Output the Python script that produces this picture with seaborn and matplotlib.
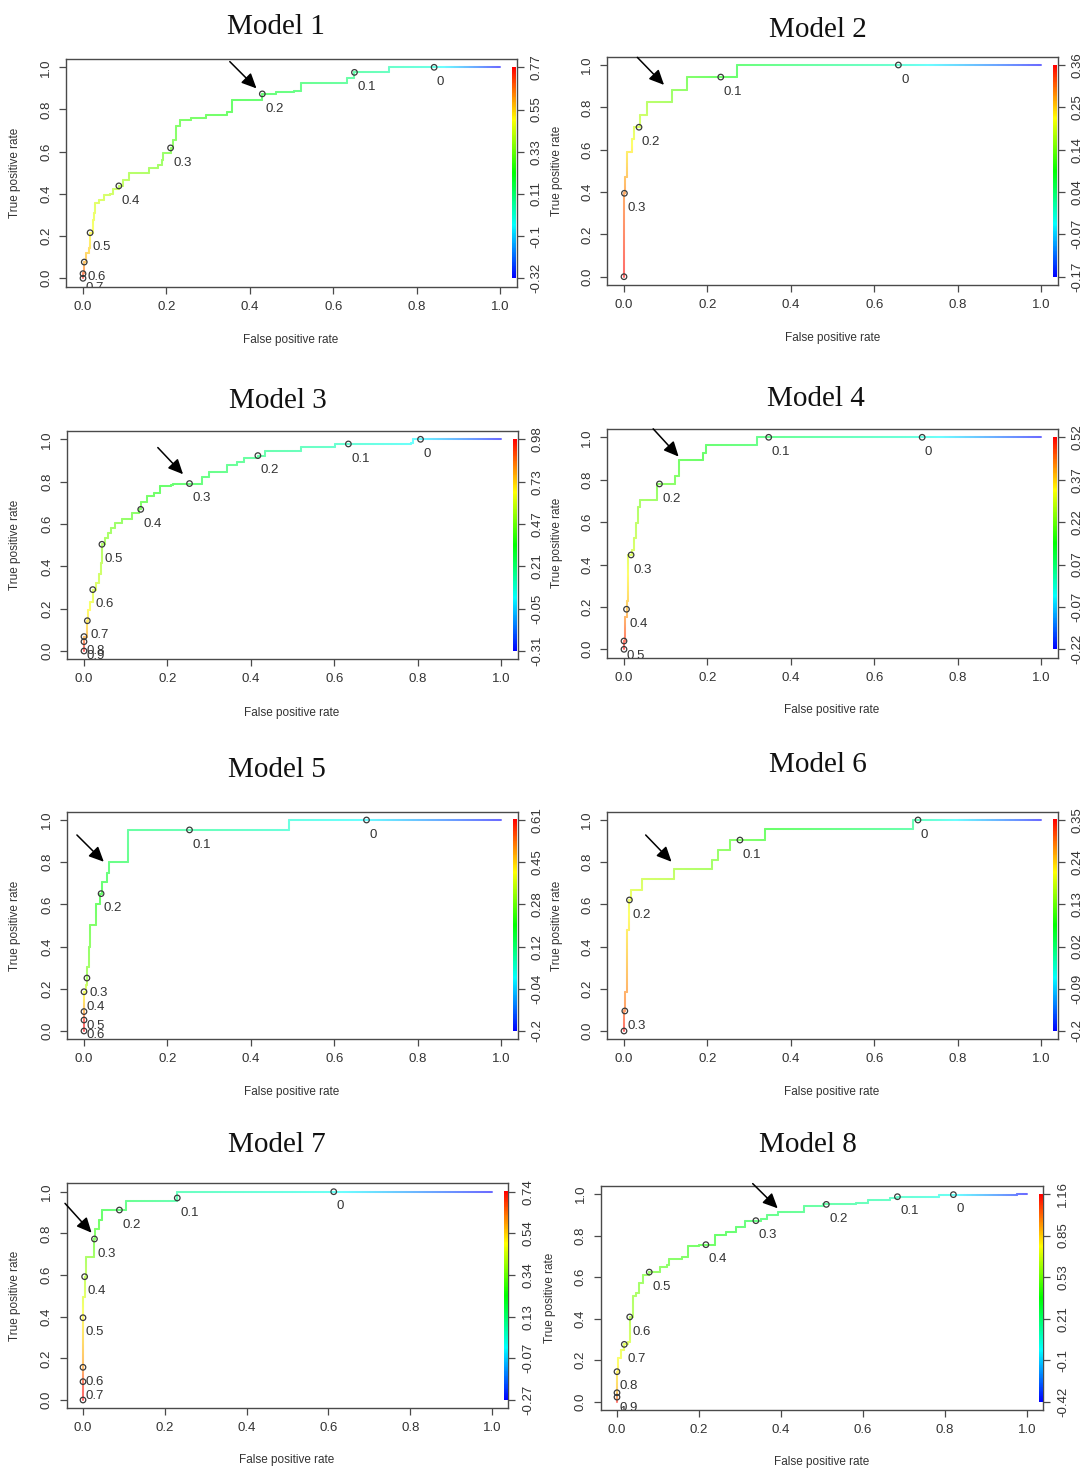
import colorsys
import numpy as np
import matplotlib
matplotlib.use("Agg")
import matplotlib.pyplot as plt
import matplotlib.transforms as mtransforms
from matplotlib.collections import LineCollection
from matplotlib.colors import ListedColormap
import seaborn as sns

# ------------------------------------------------------------------ data
MODEL_NAMES = ["Model 1", "Model 2", "Model 3", "Model 4",
               "Model 5", "Model 6", "Model 7", "Model 8"]
AXIS_TICKS = [0.0, 0.2, 0.4, 0.6, 0.8, 1.0]

# Model 1
M1_FPR = [0, 0, 0.003, 0.008, 0.015, 0.017, 0.023, 0.027, 0.029, 0.039, 0.050, 0.065, 0.071, 0.086,
          0.096, 0.110, 0.150, 0.159, 0.179, 0.190, 0.192, 0.210, 0.217, 0.224, 0.232, 0.259, 0.296,
          0.346, 0.357, 0.426, 0.430, 0.463, 0.505, 0.522, 0.622, 0.634, 0.651, 0.722, 0.735, 1.0]
M1_TPR = [0, 0.024, 0.077, 0.118, 0.142, 0.216, 0.276, 0.308, 0.355, 0.371, 0.395, 0.400, 0.422, 0.438,
          0.466, 0.498, 0.498, 0.521, 0.537, 0.561, 0.592, 0.618, 0.656, 0.722, 0.750, 0.758, 0.774,
          0.790, 0.845, 0.845, 0.874, 0.885, 0.889, 0.924, 0.924, 0.948, 0.976, 0.976, 1.0, 1.0]
M1_CUT_FPR = [0.842, 0.651, 0.430, 0.210, 0.086, 0.017, 0.003, 0.0, 0.0]
M1_CUT_TPR = [1.0, 0.976, 0.874, 0.618, 0.438, 0.216, 0.077, 0.022, 0.0]
M1_CUT_VAL = [0, 0.1, 0.2, 0.3, 0.4, 0.5, 0.6, 0.7, 0.8]
M1_CBAR = [-0.32, -0.1, 0.11, 0.33, 0.55, 0.77]

# Model 2
M2_FPR = [0, 0, 0.002, 0.007, 0.007, 0.017, 0.018, 0.023, 0.025, 0.036, 0.038, 0.053, 0.054, 0.113,
          0.114, 0.150, 0.152, 0.269, 0.271, 1.0]
M2_TPR = [0, 0.394, 0.472, 0.532, 0.587, 0.587, 0.649, 0.649, 0.706, 0.706, 0.764, 0.764, 0.824, 0.824,
          0.883, 0.883, 0.943, 0.943, 1.0, 1.0]
M2_CUT_FPR = [0.658, 0.232, 0.036, 0.001, 0.0]
M2_CUT_TPR = [1.0, 0.943, 0.706, 0.394, 0.0]
M2_CUT_VAL = [0, 0.1, 0.2, 0.3, 0.4]
M2_CBAR = [-0.17, -0.07, 0.04, 0.14, 0.25, 0.36]

# Model 3
M3_FPR = [0, 0, 0.008, 0.010, 0.015, 0.021, 0.029, 0.035, 0.040, 0.043, 0.050, 0.057, 0.065, 0.075,
          0.090, 0.110, 0.115, 0.133, 0.1375, 0.150, 0.167, 0.183, 0.208, 0.214, 0.273, 0.282, 0.300,
          0.329, 0.342, 0.367, 0.383, 0.417, 0.433, 0.517, 0.521, 0.600, 0.602, 0.783, 0.788, 1.0]
M3_TPR = [0, 0.068, 0.143, 0.194, 0.233, 0.290, 0.320, 0.364, 0.414, 0.504, 0.532, 0.556, 0.580, 0.603,
          0.624, 0.624, 0.650, 0.669, 0.706, 0.732, 0.745, 0.780, 0.783, 0.791, 0.791, 0.824, 0.847,
          0.847, 0.879, 0.894, 0.910, 0.923, 0.946, 0.946, 0.965, 0.965, 0.978, 0.984, 1.0, 1.0]
M3_CUT_FPR = [0.807, 0.634, 0.417, 0.253, 0.136, 0.043, 0.021, 0.008, 0.0, 0.0, 0.0]
M3_CUT_TPR = [1.0, 0.978, 0.923, 0.791, 0.669, 0.504, 0.290, 0.143, 0.068, 0.044, 0.0]
M3_CUT_VAL = [0, 0.1, 0.2, 0.3, 0.4, 0.5, 0.6, 0.7, 0.8, 0.9, 1.0]
M3_CBAR = [-0.31, -0.05, 0.21, 0.47, 0.73, 0.98]

# Model 4
M4_FPR = [0, 0, 0.002, 0.003, 0.006, 0.008, 0.010, 0.017, 0.020, 0.023, 0.028, 0.033, 0.039, 0.077,
          0.079, 0.120, 0.122, 0.131, 0.131, 0.185, 0.189, 0.197, 0.197, 0.318, 0.319, 1.0]
M4_TPR = [0, 0.039, 0.107, 0.154, 0.189, 0.230, 0.445, 0.445, 0.469, 0.524, 0.594, 0.670, 0.704, 0.704,
          0.780, 0.780, 0.818, 0.818, 0.893, 0.893, 0.928, 0.928, 0.964, 0.964, 1.0, 1.0]
M4_CUT_FPR = [0.715, 0.347, 0.085, 0.017, 0.006, 0.0, 0.0]
M4_CUT_TPR = [1.0, 1.0, 0.780, 0.445, 0.189, 0.039, 0.0]
M4_CUT_VAL = [0, 0.1, 0.2, 0.3, 0.4, 0.5, 0.6]
M4_CBAR = [-0.22, -0.07, 0.07, 0.22, 0.37, 0.52]

# Model 5
M5_FPR = [0, 0, 0.004, 0.007, 0.008, 0.0125, 0.015, 0.027, 0.029, 0.035, 0.0375, 0.044, 0.054, 0.056,
          0.061, 0.1025, 0.106, 0.106, 0.490, 0.492, 1.0]
M5_TPR = [0, 0.186, 0.218, 0.251, 0.305, 0.400, 0.502, 0.502, 0.602, 0.602, 0.651, 0.705, 0.705, 0.750,
          0.803, 0.803, 0.853, 0.953, 0.953, 1.0, 1.0]
M5_CUT_FPR = [0.6775, 0.253, 0.041, 0.007, 0.0, 0.0, 0.0, 0.0]
M5_CUT_TPR = [1.0, 0.953, 0.651, 0.251, 0.186, 0.092, 0.052, 0.0]
M5_CUT_VAL = [0, 0.1, 0.2, 0.3, 0.4, 0.5, 0.6, 0.7]
M5_CBAR = [-0.2, -0.04, 0.12, 0.28, 0.45, 0.61]

# Model 6
M6_FPR = [0, 0, 0.002, 0.006, 0.007, 0.008, 0.012, 0.013, 0.017, 0.042, 0.043, 0.120, 0.120, 0.208,
          0.210, 0.224, 0.225, 0.251, 0.253, 0.336, 0.337, 0.690, 0.692, 1.0]
M6_TPR = [0, 0.095, 0.186, 0.186, 0.336, 0.479, 0.479, 0.621, 0.668, 0.668, 0.719, 0.719, 0.768, 0.768,
          0.810, 0.810, 0.858, 0.858, 0.905, 0.905, 0.956, 0.956, 1.0, 1.0]
M6_CUT_FPR = [0.705, 0.278, 0.013, 0.002, 0.0]
M6_CUT_TPR = [1.0, 0.905, 0.621, 0.095, 0.0]
M6_CUT_VAL = [0, 0.1, 0.2, 0.3, 0.4]
M6_CBAR = [-0.2, -0.09, 0.02, 0.13, 0.24, 0.35]

# Model 7
M7_FPR = [0, 0, 0.001, 0.004, 0.007, 0.028, 0.028, 0.030, 0.036, 0.038, 0.045, 0.047, 0.104, 0.106,
          0.230, 0.231, 1.0]
M7_TPR = [0, 0.395, 0.496, 0.592, 0.685, 0.685, 0.773, 0.819, 0.819, 0.864, 0.864, 0.912, 0.912, 0.955,
          0.955, 1.0, 1.0]
M7_CUT_FPR = [0.613, 0.2305, 0.089, 0.028, 0.004, 0.0, 0.0, 0.0, 0.0]
M7_CUT_TPR = [1.0, 0.970, 0.912, 0.773, 0.592, 0.395, 0.157, 0.088, 0.0]
M7_CUT_VAL = [0, 0.1, 0.2, 0.3, 0.4, 0.5, 0.6, 0.7, 0.8]
M7_CBAR = [-0.27, -0.07, 0.13, 0.34, 0.54, 0.74]

# Model 8
M8_FPR = [0, 0, 0.0025, 0.009, 0.0178, 0.026, 0.031, 0.038, 0.0466, 0.053, 0.0635, 0.0787, 0.094,
          0.104, 0.121, 0.128, 0.159, 0.174, 0.199, 0.2168, 0.240, 0.265, 0.290, 0.3116, 0.3387,
          0.352, 0.3666, 0.392, 0.4217, 0.4555, 0.502, 0.5826, 0.612, 0.667, 0.684, 0.7815, 0.786,
          0.968, 0.976, 1.0]
M8_TPR = [0, 0.1445, 0.209, 0.249, 0.276, 0.289, 0.408, 0.509, 0.522, 0.570, 0.608, 0.624, 0.624,
          0.650, 0.658, 0.685, 0.695, 0.750, 0.753, 0.756, 0.8026, 0.8186, 0.8427, 0.8716, 0.8716,
          0.878, 0.899, 0.913, 0.913, 0.942, 0.950, 0.955, 0.971, 0.979, 0.987, 0.987, 0.997,
          0.997, 1.0, 1.0]
M8_CUT_FPR = [0.8205, 0.684, 0.5106, 0.3387, 0.2168, 0.0787, 0.031, 0.0178, 0.0, 0.0, 0.0]
M8_CUT_TPR = [0.997, 0.987, 0.950, 0.8716, 0.756, 0.624, 0.408, 0.276, 0.1445, 0.043, 0.022]
M8_CUT_VAL = [0, 0.1, 0.2, 0.3, 0.4, 0.5, 0.6, 0.7, 0.8, 0.9, 1.0]
M8_CBAR = [-0.42, -0.1, 0.21, 0.53, 0.85, 1.16]

# annotation arrows (start -> tip, data coordinates)
ARROWS = [((0.352, 1.027), (0.416, 0.900)),
          ((0.032, 1.036), (0.096, 0.906)),
          ((0.177, 0.961), (0.2375, 0.835)),
          ((0.070, 1.040), (0.131, 0.909)),
          ((-0.017, 0.929), (0.0475, 0.802)),
          ((0.052, 0.929), (0.114, 0.802)),
          ((-0.044, 0.944), (0.021, 0.803)),
          ((0.331, 1.050), (0.392, 0.931))]

MODELS = [
    (M1_FPR, M1_TPR, M1_CUT_FPR, M1_CUT_TPR, M1_CUT_VAL, M1_CBAR),
    (M2_FPR, M2_TPR, M2_CUT_FPR, M2_CUT_TPR, M2_CUT_VAL, M2_CBAR),
    (M3_FPR, M3_TPR, M3_CUT_FPR, M3_CUT_TPR, M3_CUT_VAL, M3_CBAR),
    (M4_FPR, M4_TPR, M4_CUT_FPR, M4_CUT_TPR, M4_CUT_VAL, M4_CBAR),
    (M5_FPR, M5_TPR, M5_CUT_FPR, M5_CUT_TPR, M5_CUT_VAL, M5_CBAR),
    (M6_FPR, M6_TPR, M6_CUT_FPR, M6_CUT_TPR, M6_CUT_VAL, M6_CBAR),
    (M7_FPR, M7_TPR, M7_CUT_FPR, M7_CUT_TPR, M7_CUT_VAL, M7_CBAR),
    (M8_FPR, M8_TPR, M8_CUT_FPR, M8_CUT_TPR, M8_CUT_VAL, M8_CBAR),
]

# ------------------------------------------------------------------ layout (pixels)
W, H = 1089, 1470
# x px of FPR 0 / 1, y px of TPR 1 / 0
PANEL_PX = [(83, 500, 67.3, 278.3), (624, 1041, 65.0, 276.7),
            (84, 501, 439.3, 651.0), (624, 1041, 437.3, 649.3),
            (84, 501, 820.0, 1031.0), (624, 1041, 820.0, 1031.0),
            (83, 492, 1191.7, 1400.0), (617, 1027, 1194.0, 1401.7)]
TITLE_PX = [(276, 27), (818, 30), (278, 401), (816, 399),
            (277, 770), (818, 765), (277, 1145), (808, 1145)]
XLAB_PX = [(291, 340), (833, 338), (292, 713), (832, 710),
           (292, 1092), (832, 1092), (287, 1460), (822, 1462)]
YLAB_X = [15, 557, 15, 557, 15, 557, 15, 550]

# ------------------------------------------------------------------ style
sns.set_theme(style="ticks")
plt.rcParams["font.family"] = ["Liberation Sans", "DejaVu Sans"]
TXT = "#333333"
FRAME = "#4a4a4a"


def rainbow_rgb(t):
    return np.array(colorsys.hsv_to_rgb((1.0 - t) * 4.0 / 6.0, 1.0, 1.0))


RAINBOW = ListedColormap([rainbow_rgb(t) for t in np.linspace(0, 1, 256)])


def step_path(fpr, tpr):
    xs, ys = [fpr[0]], [tpr[0]]
    for k in range(1, len(fpr)):
        xs += [fpr[k], fpr[k]]
        ys += [tpr[k - 1], tpr[k]]
    return np.array(xs, float), np.array(ys, float)


def project(px, py, xs, ys, s):
    best_d, best_s = 1e9, 0.0
    for k in range(len(xs) - 1):
        ax_, ay_, dx, dy = xs[k], ys[k], xs[k + 1] - xs[k], ys[k + 1] - ys[k]
        L2 = dx * dx + dy * dy
        t = 0.0 if L2 == 0 else float(np.clip(((px - ax_) * dx + (py - ay_) * dy) / L2, 0, 1))
        d = (ax_ + t * dx - px) ** 2 + (ay_ + t * dy - py) ** 2
        if d < best_d - 1e-12:
            best_d, best_s = d, s[k] + t * np.sqrt(L2)
    return best_s


fig = plt.figure(figsize=(W / 100, H / 100), dpi=100)

for i, (fpr, tpr, cf, ct, cv, cbar) in enumerate(MODELS):
    x0, x1, y1, y0 = PANEL_PX[i]
    ux, uy = x1 - x0, y0 - y1
    left, right = x0 - 0.04 * ux, x1 + 0.04 * ux
    top, bottom = y1 - 0.04 * uy, y0 + 0.04 * uy
    ax = fig.add_axes([left / W, 1 - bottom / H, (right - left) / W, (bottom - top) / H])
    vmin, vmax = cbar[0], cbar[-1]

    # coloured step curve
    xs, ys = step_path(fpr, tpr)
    seg_len = np.hypot(np.diff(xs), np.diff(ys))
    s = np.concatenate([[0.0], np.cumsum(seg_len)])
    anchors = [(0.0, vmax)]
    for px, py, v in zip(cf, ct, cv):
        if vmin < v < vmax:
            anchors.append((project(px, py, xs, ys, s), v))
    anchors.append((s[-1], vmin))
    anchors.sort()
    a_s = np.array([a[0] for a in anchors])
    a_v = np.minimum.accumulate(np.array([a[1] for a in anchors]))
    segs, cols = [], []
    for k in range(len(xs) - 1):
        if seg_len[k] == 0:
            continue
        n = max(1, int(np.ceil(seg_len[k] / 0.004)))
        tt = np.linspace(0, 1, n + 1)
        px_ = xs[k] + tt * (xs[k + 1] - xs[k])
        py_ = ys[k] + tt * (ys[k + 1] - ys[k])
        sm = s[k] + (tt[:-1] + tt[1:]) / 2 * seg_len[k]
        vals = np.interp(sm, a_s, a_v)
        for j in range(n):
            segs.append([(px_[j], py_[j]), (px_[j + 1], py_[j + 1])])
            rgb = rainbow_rgb((vals[j] - vmin) / (vmax - vmin))
            cols.append(1 - 0.58 * (1 - rgb))
    lc = LineCollection(segs, colors=cols, linewidths=1.45, capstyle="round", zorder=3)
    ax.add_collection(lc)

    # cutoff markers
    sns.scatterplot(x=cf, y=ct, ax=ax, s=16, marker="o", legend=False, zorder=6)
    coll = ax.collections[-1]
    coll.set_facecolor("none")
    coll.set_edgecolor("#3a3a3a")
    coll.set_linewidth(0.9)

    # cutoff labels (clipped to the plot region, as in the original)
    off = mtransforms.ScaledTranslation(2 / 72, -6.3 / 72, fig.dpi_scale_trans)
    for px, py, v in zip(cf, ct, cv):
        t = ax.text(px, py, f"{v:g}", transform=ax.transData + off, ha="left", va="top",
                    fontsize=9.5, color=TXT, clip_on=True, zorder=7)
        t.set_clip_path(ax.patch)

    # colour key strip
    grad = np.linspace(0, 1, 256).reshape(-1, 1)
    ax.imshow(grad, extent=[1.029, 1.037, 0, 1], origin="lower", aspect="auto",
              cmap=RAINBOW, zorder=4, interpolation="nearest")

    # arrow
    (sx, sy), (tx, ty) = ARROWS[i]
    ann = ax.annotate("", xy=(tx, ty), xytext=(sx, sy), annotation_clip=False,
                      arrowprops=dict(arrowstyle="-|>,head_length=0.6,head_width=0.28",
                                      color="black", lw=1.1, shrinkA=0, shrinkB=0,
                                      mutation_scale=15))
    ann.arrow_patch.set_clip_on(False)

    ax.set_xlim(-0.04, 1.04)
    ax.set_ylim(-0.04, 1.04)
    ax.set_xticks(AXIS_TICKS)
    ax.set_xticklabels([f"{v:.1f}" for v in AXIS_TICKS])
    ax.set_yticks(AXIS_TICKS)
    ax.set_yticklabels([f"{v:.1f}" for v in AXIS_TICKS], rotation=90, va="center")
    ax.tick_params(axis="both", direction="out", length=5, width=0.9, color=FRAME,
                   labelsize=9.5, labelcolor=TXT, pad=5, left=True, bottom=True)
    for sp in ax.spines.values():
        sp.set_visible(True)
        sp.set_color(FRAME)
        sp.set_linewidth(1.0)
    ax.set_facecolor("white")

    ax2 = ax.twinx()
    ax2.set_ylim(-0.04, 1.04)
    ax2.set_yticks(AXIS_TICKS)
    ax2.set_yticklabels([f"{v:g}" for v in cbar], rotation=90, va="center")
    ax2.tick_params(axis="y", direction="out", length=5, width=0.9, color=FRAME,
                    labelsize=9.5, labelcolor=TXT, pad=5, right=True)
    for sp in ax2.spines.values():
        sp.set_visible(False)

    # titles and axis titles
    tx_, ty_ = TITLE_PX[i]
    fig.text(tx_ / W, 1 - ty_ / H, MODEL_NAMES[i], ha="center", va="center",
             fontsize=21, family="Liberation Serif", color="#111111")
    lx, ly = XLAB_PX[i]
    fig.text(lx / W, 1 - ly / H, "False positive rate", ha="center", va="center",
             fontsize=8.5, color=TXT)
    fig.text(YLAB_X[i] / W, 1 - ((y0 + y1) / 2) / H, "True positive rate", ha="center",
             va="center", rotation=90, fontsize=8.5, color=TXT)

fig.savefig("out.png", dpi=100, facecolor="white")
